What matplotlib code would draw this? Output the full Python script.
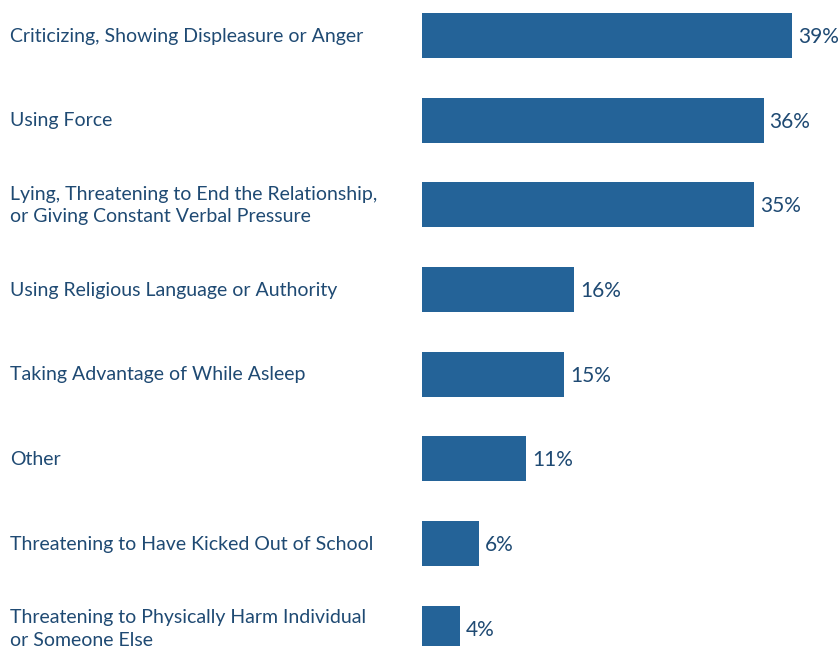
import matplotlib
matplotlib.use("Agg")
import matplotlib.pyplot as plt
from matplotlib.transforms import blended_transform_factory, offset_copy

categories = [
    "Criticizing, Showing Displeasure or Anger",
    "Using Force",
    "Lying, Threatening to End the Relationship,\nor Giving Constant Verbal Pressure",
    "Using Religious Language or Authority",
    "Taking Advantage of While Asleep",
    "Other",
    "Threatening to Have Kicked Out of School",
    "Threatening to Physically Harm Individual\nor Someone Else",
]
values = [39, 36, 35, 16, 15, 11, 6, 4]
value_labels = ["39%", "36%", "35%", "16%", "15%", "11%", "6%", "4%"]

BAR = "#246398"
TXT = "#1f4a73"

W, H = 840, 646
fig = plt.figure(figsize=(W / 100, H / 100), dpi=100)
ax = fig.add_axes([422 / W, 0, 1 - 422 / W, 1])
ax.set_xlim(0, 418 / 9.49)
unit = 84.67
ax.set_ylim((H - 35.5) / unit, -35.5 / unit)
ax.axis("off")

ypos = list(range(len(values)))
ax.barh(ypos, values, height=45 / unit, color=BAR)

for y, v, lab in zip(ypos, values, value_labels):
    ax.text(v, y, lab, transform=offset_copy(ax.transData, fig=fig, x=4.3, y=-1, units="points"),
            ha="left", va="center", fontsize=15, color=TXT, family="Lato")

tr = blended_transform_factory(fig.transFigure, ax.transData)
for y, c in zip(ypos, categories):
    ax.text(10 / W, y, c, transform=offset_copy(tr, fig=fig, x=0, y=-0.5, units="points"),
            ha="left", va="center", fontsize=14, color=TXT, family="Lato", linespacing=1.4)

fig.savefig("out.png", dpi=100)
